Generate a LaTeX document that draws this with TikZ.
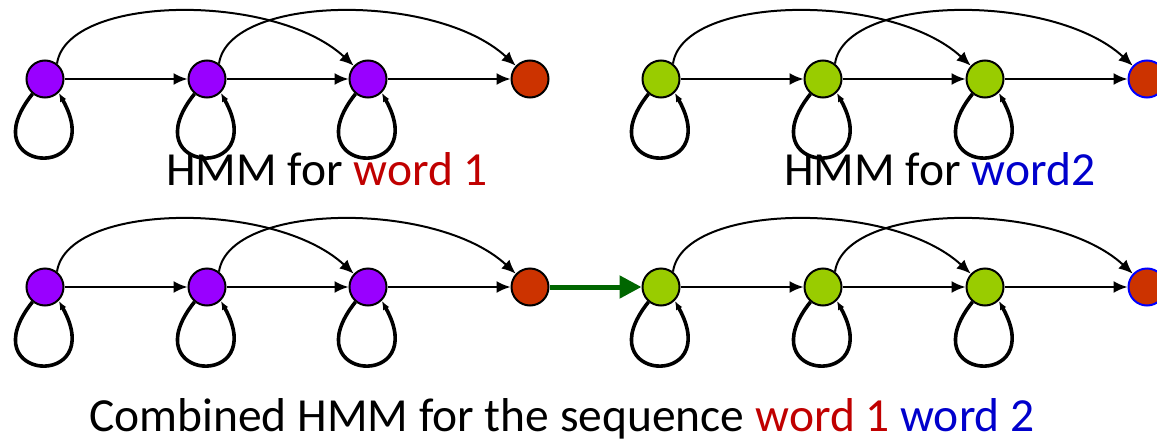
\documentclass[tikz,border=0pt]{standalone}
\usepackage{fontspec}
\setmainfont{Carlito}
\usetikzlibrary{arrows.meta}
\definecolor{hpurple}{HTML}{9900FF}
\definecolor{hgreen}{HTML}{99CC00}
\definecolor{hred}{HTML}{CC3300}
\definecolor{hblue}{HTML}{0000FF}
\definecolor{htred}{HTML}{C00000}
\definecolor{htblue}{HTML}{0000CC}
\definecolor{hdgreen}{HTML}{006600}
\begin{document}
\begin{tikzpicture}[x=1pt,y=-1pt,
  st/.style={circle,draw=black,line width=2pt,minimum size=37pt,inner sep=0pt},
  pst/.style={st,fill=hpurple},
  gst/.style={st,fill=hgreen},
  rst/.style={st,fill=hred},
  bst/.style={st,fill=hred,draw=hblue},
  tr/.style={line width=2pt,-{Latex[length=14pt,width=12pt]}},
  selfl/.style={line width=3.6pt,-{Latex[length=9pt,width=7pt]}},
  linkarrow/.style={line width=5pt,draw=hdgreen,-{Triangle[length=22pt,width=22pt]}},
  lbl/.style={inner sep=0pt,anchor=base west,font=\fontsize{47.5}{56}\selectfont}]
\useasboundingbox (0,0) rectangle (1157,442);
% nodes
\foreach \r/\y in {t/79,c/287}{
  \node[pst] (\r1) at (45,\y) {};
  \node[pst] (\r2) at (207,\y) {};
  \node[pst] (\r3) at (368,\y) {};
  \node[rst] (\r4) at (530,\y) {};
  \node[gst] (\r5) at (661,\y) {};
  \node[gst] (\r6) at (823,\y) {};
  \node[gst] (\r7) at (985,\y) {};
  \node[bst] (\r8) at (1147,\y) {};
}
% edges
\foreach \r in {t,c}{
  \foreach \a/\b/\c in {1/2/3,2/3/4,5/6/7,6/7/8}{
    \draw[tr] (\r\a) -- (\r\b);
    \draw[tr] (\r\a.52) .. controls +(10,-69) and +(-80,-74) .. (\r\c.137);
  }
  \draw[tr] (\r3) -- (\r4);
  \draw[tr] (\r7) -- (\r8);
  \foreach \a in {1,2,3,5,6,7}{
    \draw[selfl] (\r\a.230) .. controls +(-64,80) and +(50,90) .. (\r\a.-45);
  }
}
\draw[linkarrow] (c4) -- (c5);
% labels
\node[lbl] (l1) at (166,185) {HMM for \textcolor{htred}{word 1}};
\node[lbl] (l2) at (784,185) {HMM for \textcolor{htblue}{word2}};
\node[lbl] (l3) at (89,431) {Combined HMM for the sequence \textcolor{htred}{word 1} \textcolor{htblue}{word 2}};
\end{tikzpicture}
\end{document}
